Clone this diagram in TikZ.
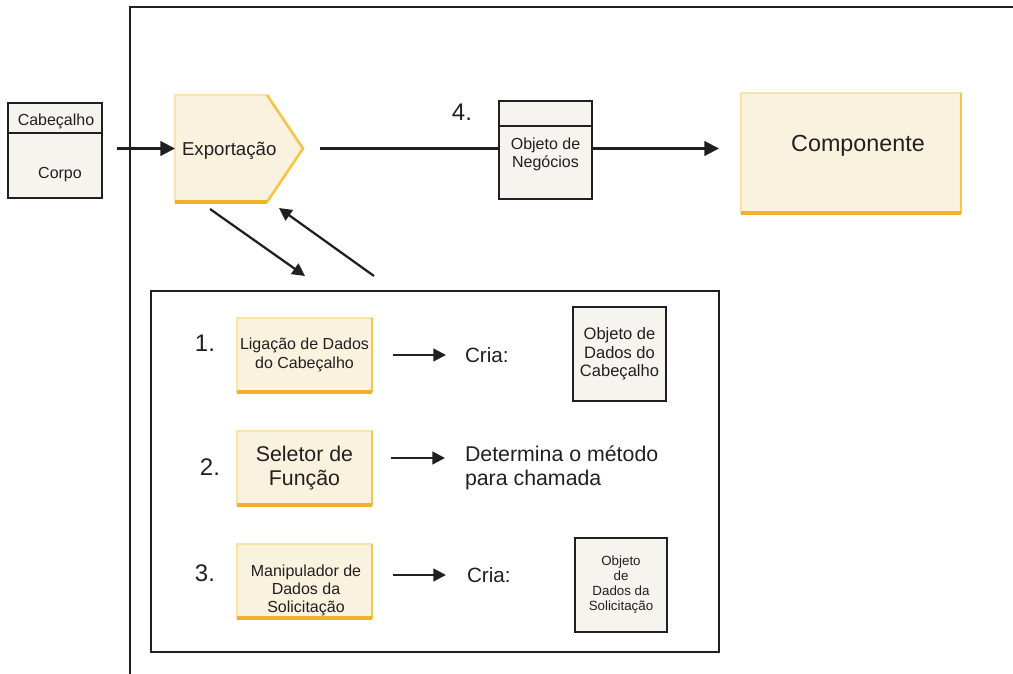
\documentclass[tikz,border=0pt]{standalone}
\usepackage{fontspec}
\setmainfont{Liberation Sans}
\usetikzlibrary{arrows.meta}
\definecolor{ink}{HTML}{231F20}
\definecolor{cream}{HTML}{F8F2DE}
\definecolor{paper}{HTML}{F6F4EE}
\definecolor{ylight}{HTML}{F9E4A5}
\definecolor{ymid}{HTML}{F5C545}
\definecolor{ydark}{HTML}{F1B22B}
\begin{document}
\begin{tikzpicture}[x=0.75pt,y=-0.75pt,
  every node/.style={text=ink, inner sep=0pt, outer sep=0pt},
  frame/.style={draw=ink, line width=1.7pt},
  ln/.style={draw=ink, line width=1.7pt},
  arr/.style={ln, -{Triangle[length=11pt,width=11pt]}},
  sarr/.style={ln, -{Triangle[length=9.5pt,width=9.5pt]}},
  ybox/.style={fill=cream, draw=ylight, line width=1pt, minimum width=101.25pt, minimum height=55.5pt, align=center},
  obox/.style={fill=paper, draw=ink, line width=1.6pt, align=center},
  ybottom/.style={draw=ydark, line width=2.4pt},
  yright/.style={draw=ymid, line width=1.5pt},
  f10/.style={font=\fontsize{10}{11.25}\selectfont},
  f12/.style={font=\fontsize{12}{13.6}\selectfont},
  f14/.style={font=\fontsize{14}{16}\selectfont},
  f16/.style={font=\fontsize{16}{18}\selectfont},
  f18/.style={font=\fontsize{18}{20}\selectfont}
]
\useasboundingbox (0,0) rectangle (1013,674);

% outer frame
\coordinate (fc) at (130,7);
\coordinate (fr) at (1013,7);
\coordinate (fb) at (130,674);
\draw[frame] (fr) -- (fc) -- (fb);

% message box
\node[obox, minimum width=70.5pt, minimum height=71.25pt] (msg) at (55,150.5) {};
\draw[ln, line width=1.6pt] (8,133) -- (102,133);
\node[f12] (cab) at (56,121) {Cabeçalho};
\node[f12] (corpo) at (60,175) {Corpo};

% export (pentagon)
\coordinate (e1) at (175,95);
\coordinate (e2) at (267,95);
\coordinate (e3) at (303,148.5);
\coordinate (e4) at (267,202);
\coordinate (e5) at (175,202);
\fill[cream] (e1) -- (e2) -- (e3) -- (e4) -- (e5) -- cycle;
\draw[draw=ylight, line width=1.2pt] (e5) -- (e1) -- (e2);
\draw[yright, line width=2pt, line join=miter] (e2) -- (e3) -- (e4);
\draw[ybottom, line width=2.8pt] (e4) -- (e5);
\node[minimum width=69pt, minimum height=80.25pt] (exp) at (221,148.5) {};
\node[f14, anchor=west] (exptxt) at (182,151) {Exportação};

% business object
\node[obox, minimum width=69.75pt, minimum height=73.5pt] (bo) at (545.5,150) {};
\draw[ln, line width=1.6pt] (499,126) -- (592,126);
\node[f12, align=center] (botxt) at (545.5,154.5) {Objeto de\\Negócios};
\node[f18] (n4) at (462,112) {4.};

% component
\node[fill=cream, draw=ylight, line width=1pt, minimum width=165pt, minimum height=90pt] (comp) at (851,153) {};
\draw[yright] (comp.north east) -- (comp.south east);
\draw[ybottom] (comp.south west) -- (comp.south east);
\node[font=\fontsize{17.5}{20}\selectfont] (comptxt) at (858,146) {Componente};

% top connectors
\draw[arr, shorten <=11.25pt] (msg.east |- exp.west) -- (exp.west);
\draw[ln, shorten <=12.75pt] (e3) -- (bo.west |- e3);
\draw[arr, shorten >=16.5pt] (bo.east |- e3) -- (comp.west |- e3);

% diagonal arrows
\coordinate (d1a) at (210,209);
\coordinate (d1b) at (305,276);
\coordinate (d2a) at (374,276);
\coordinate (d2b) at (279,208);
\draw[sarr] (d1a) -- (d1b);
\draw[sarr] (d2a) -- (d2b);

% inner box
\node[draw=ink, line width=1.6pt, minimum width=426pt, minimum height=270.75pt] (inner) at (435,471.5) {};

% row 1
\node[f18] (n1) at (205,343) {1.};
\node[ybox, font=\fontsize{12}{13.8}\selectfont] (b1) at (304.5,355) {Ligação de Dados\\do Cabeçalho};
\node[font=\fontsize{15.5}{18}\selectfont, anchor=west] (cria1) at (465,355) {Cria:};
\node[obox, minimum width=69.75pt, minimum height=70.5pt, font=\fontsize{12.4}{14}\selectfont] (o1) at (619.5,354) {Objeto de\\Dados do\\Cabeçalho};
\draw[sarr, shorten <=15.75pt, shorten >=14.25pt] (b1.east) -- (cria1.west);

% row 2
\node[f18] (n2) at (210,467) {2.};
\node[ybox, font=\fontsize{16}{17.8}\selectfont] (b2) at (304.5,468) {Seletor de\\Função};
\node[font=\fontsize{16}{18.4}\selectfont, anchor=west, align=left] (det) at (465,468) {Determina o método\\para chamada};
\draw[sarr, shorten <=14.25pt, shorten >=15pt] (b2.east |- 0,458) -- (det.west |- 0,458);

% row 3
\node[f18] (n3) at (205,573) {3.};
\node[ybox] (b3) at (304.5,581) {};
\node[font=\fontsize{12}{13.5}\selectfont, align=center] (b3txt) at (306,590) {Manipulador de\\Dados da\\Solicitação};
\node[font=\fontsize{15.5}{18}\selectfont, anchor=west] (cria3) at (467,575) {Cria:};
\node[obox, minimum width=69pt, minimum height=70.5pt, f10] (o3) at (621,585) {Objeto\\de\\Dados da\\Solicitação};
\draw[sarr, shorten <=15.75pt, shorten >=15.75pt] (b3.east |- cria3.west) -- (cria3.west);

% yellow box accents
\foreach \b in {b1,b2,b3}{
  \draw[yright] (\b.north east) -- (\b.south east);
  \draw[ybottom] (\b.south west) -- (\b.south east);
}
\end{tikzpicture}
\end{document}
